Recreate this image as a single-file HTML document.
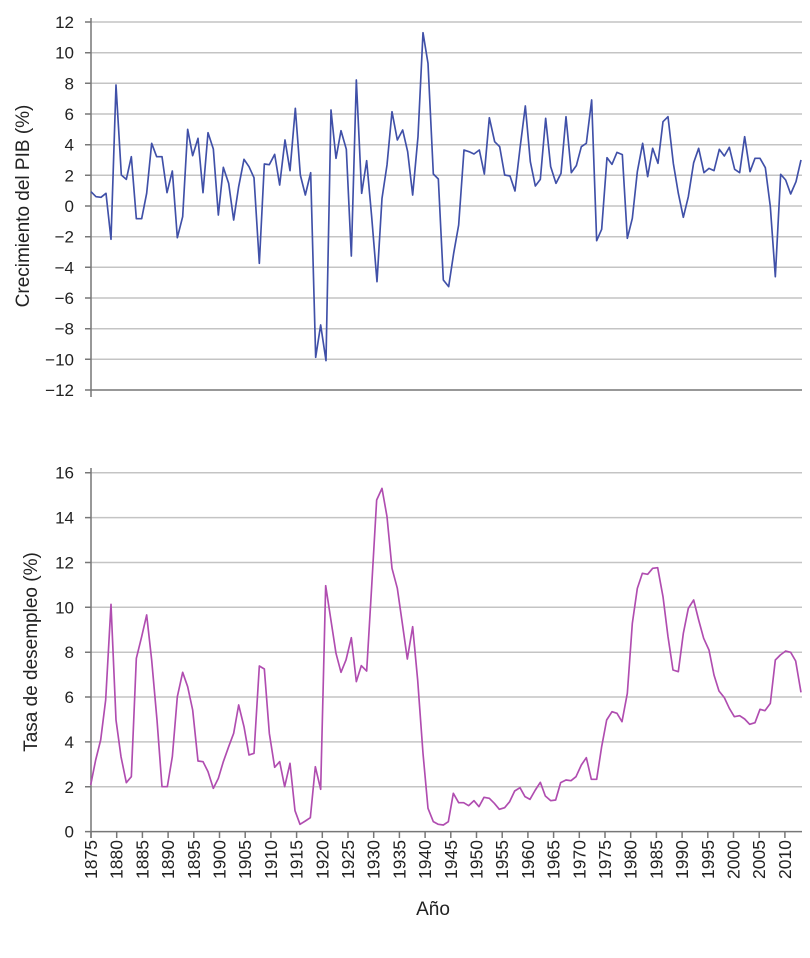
<!DOCTYPE html>
<html><head><meta charset="utf-8"><style>
html,body{margin:0;padding:0;background:#fff;}
svg{display:block;font-family:"Liberation Sans","DejaVu Sans",sans-serif;}
</style></head><body>
<svg width="810" height="958" viewBox="0 0 810 958" xmlns="http://www.w3.org/2000/svg">
<g stroke="#c4c4c4" stroke-width="1.5">
<line x1="91" y1="22" x2="802" y2="22"/><line x1="91" y1="52.7" x2="802" y2="52.7"/><line x1="91" y1="83.3" x2="802" y2="83.3"/><line x1="91" y1="114" x2="802" y2="114"/><line x1="91" y1="144.7" x2="802" y2="144.7"/><line x1="91" y1="175.3" x2="802" y2="175.3"/><line x1="91" y1="206" x2="802" y2="206"/><line x1="91" y1="236.7" x2="802" y2="236.7"/><line x1="91" y1="267.3" x2="802" y2="267.3"/><line x1="91" y1="298" x2="802" y2="298"/><line x1="91" y1="328.7" x2="802" y2="328.7"/><line x1="91" y1="359.3" x2="802" y2="359.3"/>
<line x1="91" y1="472.7" x2="802" y2="472.7"/><line x1="91" y1="517.6" x2="802" y2="517.6"/><line x1="91" y1="562.5" x2="802" y2="562.5"/><line x1="91" y1="607.3" x2="802" y2="607.3"/><line x1="91" y1="652.2" x2="802" y2="652.2"/><line x1="91" y1="697" x2="802" y2="697"/><line x1="91" y1="741.9" x2="802" y2="741.9"/><line x1="91" y1="786.8" x2="802" y2="786.8"/>
</g>
<g stroke="#777" stroke-width="1.5">
<line x1="91" y1="18" x2="91" y2="397"/><line x1="91" y1="390" x2="802" y2="390"/>
<line x1="91" y1="468" x2="91" y2="838"/><line x1="91" y1="831.6" x2="802" y2="831.6"/>
<path d="M85 22H91M85 52.7H91M85 83.3H91M85 114H91M85 144.7H91M85 175.3H91M85 206H91M85 236.7H91M85 267.3H91M85 298H91M85 328.7H91M85 359.3H91M85 390H91"/>
<path d="M85 472.7H91M85 517.6H91M85 562.5H91M85 607.3H91M85 652.2H91M85 697H91M85 741.9H91M85 786.8H91M85 831.6H91"/>
<path d="M91 831V838M116.7 831V838M142.4 831V838M168.1 831V838M193.8 831V838M219.5 831V838M245.2 831V838M270.9 831V838M296.6 831V838M322.3 831V838M348 831V838M373.7 831V838M399.4 831V838M425.1 831V838M450.8 831V838M476.5 831V838M502.2 831V838M527.9 831V838M553.6 831V838M579.3 831V838M605 831V838M630.7 831V838M656.4 831V838M682.1 831V838M707.8 831V838M733.5 831V838M759.2 831V838M784.9 831V838"/>
</g>
<g font-size="17" fill="#222" text-anchor="end">
<text x="74" y="28">12</text><text x="74" y="58.7">10</text><text x="74" y="89.3">8</text><text x="74" y="120">6</text><text x="74" y="150.7">4</text><text x="74" y="181.3">2</text><text x="74" y="212">0</text><text x="74" y="242.7">−2</text><text x="74" y="273.3">−4</text><text x="74" y="304">−6</text><text x="74" y="334.7">−8</text><text x="74" y="365.3">−10</text><text x="74" y="396">−12</text>
<text x="74" y="478.7">16</text><text x="74" y="523.6">14</text><text x="74" y="568.5">12</text><text x="74" y="613.3">10</text><text x="74" y="658.2">8</text><text x="74" y="703">6</text><text x="74" y="747.9">4</text><text x="74" y="792.8">2</text><text x="74" y="837.6">0</text>
</g>
<g font-size="17.5" fill="#222" text-anchor="end">
<text transform="translate(97,840) rotate(-90)">1875</text><text transform="translate(122.7,840) rotate(-90)">1880</text><text transform="translate(148.4,840) rotate(-90)">1885</text><text transform="translate(174.1,840) rotate(-90)">1890</text><text transform="translate(199.8,840) rotate(-90)">1895</text><text transform="translate(225.5,840) rotate(-90)">1900</text><text transform="translate(251.2,840) rotate(-90)">1905</text><text transform="translate(276.9,840) rotate(-90)">1910</text><text transform="translate(302.6,840) rotate(-90)">1915</text><text transform="translate(328.3,840) rotate(-90)">1920</text><text transform="translate(354,840) rotate(-90)">1925</text><text transform="translate(379.7,840) rotate(-90)">1930</text><text transform="translate(405.4,840) rotate(-90)">1935</text><text transform="translate(431.1,840) rotate(-90)">1940</text><text transform="translate(456.8,840) rotate(-90)">1945</text><text transform="translate(482.5,840) rotate(-90)">1950</text><text transform="translate(508.2,840) rotate(-90)">1955</text><text transform="translate(533.9,840) rotate(-90)">1960</text><text transform="translate(559.6,840) rotate(-90)">1965</text><text transform="translate(585.3,840) rotate(-90)">1970</text><text transform="translate(611,840) rotate(-90)">1975</text><text transform="translate(636.7,840) rotate(-90)">1980</text><text transform="translate(662.4,840) rotate(-90)">1985</text><text transform="translate(688.1,840) rotate(-90)">1990</text><text transform="translate(713.8,840) rotate(-90)">1995</text><text transform="translate(739.5,840) rotate(-90)">2000</text><text transform="translate(765.2,840) rotate(-90)">2005</text><text transform="translate(790.9,840) rotate(-90)">2010</text>
</g>
<text x="433" y="915" font-size="19" fill="#222" text-anchor="middle">Año</text>
<text transform="translate(29,206) rotate(-90)" font-size="19" fill="#222" text-anchor="middle">Crecimiento del PIB (%)</text>
<text transform="translate(37,652) rotate(-90)" font-size="19" fill="#222" text-anchor="middle">Tasa de desempleo (%)</text>
<g transform="scale(0.33333)" fill="none" stroke="#4050a8" stroke-width="5" stroke-linejoin="round">
<polyline points="273,575 288,590 303,592 318,580 333,718 348,255 364,525 379,538 394,470 409,656 425,656 440,580 455,430 470,470 486,470 501,578 517,513 532,713 548,650 563,388 578,467 594,415 609,578 624,398 640,447 655,645 670,502 686,550 701,660 716,560 732,478 747,500 762,533 778,790 793,492 808,494 824,463 839,555 855,420 870,512 886,325 901,525 916,585 932,518 947,1072 962,975 978,1082 993,330 1008,475 1023,392 1039,448 1054,768 1069,240 1085,580 1100,482 1115,650 1131,845 1146,595 1161,495 1176,335 1192,420 1208,390 1223,455 1238,585 1254,410 1269,98 1284,190 1300,522 1315,537 1330,840 1346,860 1361,760 1376,675 1392,450 1407,455 1422,462 1438,450 1453,522 1468,353 1484,425 1499,440 1514,525 1530,528 1545,573 1560,445 1576,318 1591,485 1606,558 1621,538 1637,355 1652,500 1668,550 1683,520 1698,350 1714,518 1729,497 1744,440 1759,430 1775,300 1790,722 1805,688 1821,473 1836,493 1851,457 1867,464 1882,715 1897,655 1912,515 1928,430 1943,530 1958,445 1974,490 1989,365 2004,350 2020,490 2035,580 2050,652 2065,590 2081,488 2096,445 2112,518 2127,505 2142,512 2158,448 2173,468 2188,442 2204,508 2219,518 2234,410 2250,515 2265,475 2280,475 2296,503 2311,620 2326,830 2342,523 2357,540 2372,582 2388,545 2403,480"/>
</g>
<g transform="translate(80,460) scale(0.33333)" fill="none" stroke="#b04db0" stroke-width="5" stroke-linejoin="round">
<polyline points="32,975 47,900 62,840 77,720 93,433 108,780 123,890 139,968 154,950 169,595 185,530 200,465 215,600 231,780 246,980 262,980 277,890 292,710 308,637 323,680 338,750 354,903 369,905 384,935 400,985 415,955 430,905 446,860 461,820 476,735 492,800 507,885 522,880 538,618 553,627 568,820 584,922 599,905 614,980 630,910 645,1052 660,1093 676,1083 691,1073 706,920 722,988 737,377 752,475 768,580 783,637 798,600 814,533 829,665 844,617 860,633 875,380 890,120 906,85 921,170 936,325 952,385 967,490 982,597 998,500 1013,660 1029,880 1044,1045 1060,1085 1075,1093 1090,1095 1105,1085 1120,1000 1136,1028 1151,1028 1166,1037 1182,1022 1197,1040 1212,1012 1228,1015 1243,1030 1258,1048 1274,1043 1289,1025 1304,993 1320,983 1335,1010 1350,1018 1366,990 1381,967 1396,1008 1412,1022 1427,1020 1442,968 1458,960 1473,962 1488,950 1504,915 1519,893 1534,958 1550,958 1565,860 1580,780 1596,755 1611,760 1626,785 1642,700 1657,490 1672,385 1687,340 1703,343 1718,325 1733,323 1749,410 1764,530 1779,630 1795,635 1810,520 1825,445 1841,420 1856,480 1871,535 1887,570 1902,645 1917,693 1933,713 1948,745 1963,770 1979,767 1994,777 2009,793 2025,788 2040,748 2055,752 2071,730 2086,600 2101,585 2117,573 2132,577 2147,603 2163,697"/>
</g>
</svg>
</body></html>
